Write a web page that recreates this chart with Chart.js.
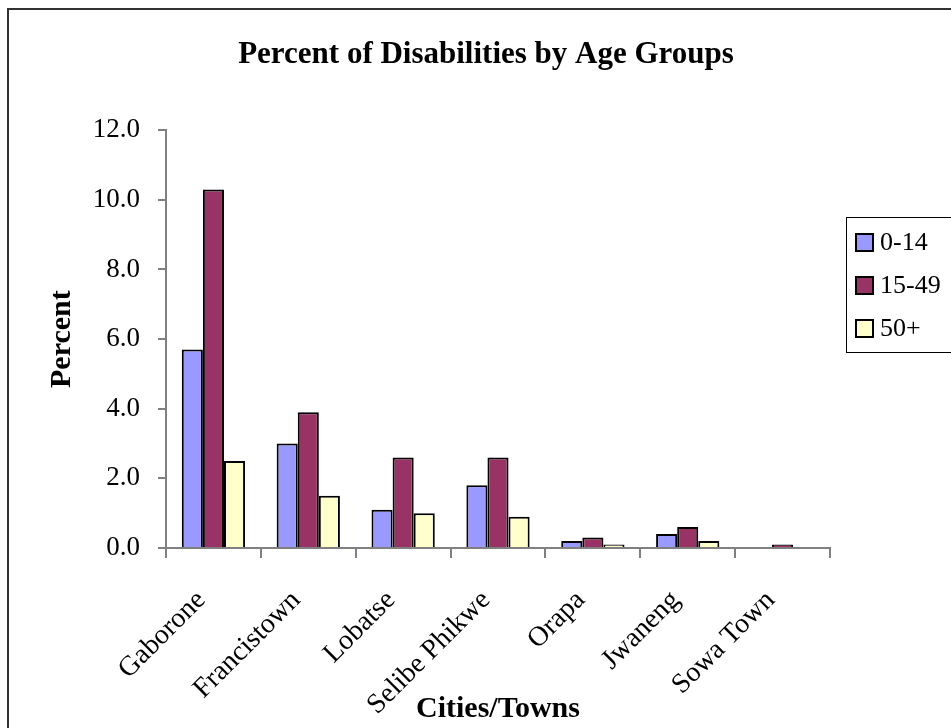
<!DOCTYPE html>
<html>
<head>
<meta charset="utf-8">
<title>Percent of Disabilities by Age Groups</title>
<script src="https://cdn.jsdelivr.net/npm/chart.js@4.4.0/dist/chart.umd.min.js"></script>
<style>
    html, body { margin: 0; padding: 0; background: #fff; }
</style>
</head>
<body>
<canvas id="disability-canvas" width="951" height="728"></canvas>
<script>
const cities = ["Gaborone", "Francistown", "Lobatse", "Selibe Phikwe", "Orapa", "Jwaneng", "Sowa Town"]
const ageGroups = ["0-14", "15-49", "50+"]
const age0to14 = [5.7, 3.0, 1.1, 1.8, 0.2, 0.4, 0.0]
const age15to49 = [10.3, 3.9, 2.6, 2.6, 0.3, 0.6, 0.1]
const age50plus = [2.5, 1.5, 1.0, 0.9, 0.1, 0.2, 0.0]
const yTicks = [0, 2, 4, 6, 8, 10, 12]
const barColors = ["#9999ff", "#993366", "#ffffcc"]

Chart.defaults.font.family = "'Liberation Serif', 'Times New Roman', serif"
Chart.defaults.color = "#000"

// outer frame of the picture
const framePlugin = {
    id: "frame",
    beforeDraw(chart) {
        const ctx = chart.ctx
        ctx.save()
        ctx.fillStyle = "#fff"
        ctx.fillRect(0, 0, chart.width, chart.height)
        ctx.strokeStyle = "#333"
        ctx.lineWidth = 2
        ctx.strokeRect(8, 9, chart.width + 20, chart.height + 20)
        ctx.restore()
    }
}

// boxed legend on the right; added as a layout box so it takes its own room
const boxLegendPlugin = {
    id: "boxLegend",
    beforeInit(chart) {
        const box = {
            position: "right",
            weight: 1000,
            fullSize: false,
            options: {},
            isHorizontal: () => false,
            update(maxWidth, maxHeight) {
                this.width = 121
                this.height = maxHeight
            },
            draw() {
                const ctx = chart.ctx
                const left = this.left + 16
                const top = 217
                const step = 43
                ctx.save()
                ctx.strokeStyle = "#000"
                ctx.lineWidth = 1
                ctx.strokeRect(left + 0.5, top + 0.5, 130, 135)
                ctx.font = "26px 'Liberation Serif', serif"
                ctx.textBaseline = "middle"
                chart.data.datasets.forEach((ds, i) => {
                    const y = top + 25 + i * step
                    ctx.fillStyle = ds.backgroundColor
                    ctx.fillRect(left + 10, y - 8, 17, 17)
                    ctx.lineWidth = 2
                    ctx.strokeRect(left + 10, y - 8, 17, 17)
                    ctx.fillStyle = "#000"
                    ctx.fillText(ds.label, left + 34, y + 1)
                })
                ctx.restore()
            }
        }
        Chart.layouts.addBox(chart, box)
    }
}

const canvas = document.querySelector("#disability-canvas")

const disabilityChart = new Chart(canvas, {
    type: "bar",
    data: {
        labels: cities,
        datasets: [age0to14, age15to49, age50plus].map((values, i) => ({
            label: ageGroups[i],
            data: values,
            backgroundColor: barColors[i],
            borderColor: "#000",
            borderWidth: 2,
            categoryPercentage: 0.667,
            barPercentage: 1.0
        }))
    },
    options: {
        responsive: false,
        animation: false,
        devicePixelRatio: 1,
        layout: {
            padding: { left: 21, right: 0, top: 0, bottom: 0 }
        },
        plugins: {
            legend: { display: false },
            tooltip: { enabled: false },
            title: {
                display: true,
                text: "Percent of Disabilities by Age Groups",
                font: { size: 31, weight: "bold" },
                padding: { top: 36, bottom: 57 }
            }
        },
        scales: {
            x: {
                grid: { drawOnChartArea: false, color: "#808080", lineWidth: 2, tickLength: 10, offset: true },
                border: { color: "#808080", width: 2 },
                ticks: { autoSkip: false, minRotation: 45, maxRotation: 45, padding: 26, labelOffset: -12, font: { size: 28 } },
                title: {
                    display: true,
                    text: "Cities/Towns",
                    font: { size: 30, weight: "bold" },
                    padding: { top: 0, bottom: 1 }
                },
                afterFit: scale => { scale.height = 180 }
            },
            y: {
                min: 0,
                max: 12,
                afterBuildTicks: scale => { scale.ticks = yTicks.map(v => ({ value: v })) },
                ticks: { padding: 18, font: { size: 27 }, callback: v => v.toFixed(1) },
                grid: { drawOnChartArea: false, color: "#808080", lineWidth: 2, tickLength: 8 },
                border: { color: "#808080", width: 2 },
                title: {
                    display: true,
                    text: "Percent",
                    font: { size: 30, weight: "bold" },
                    padding: { top: 23, bottom: 0 }
                },
                afterFit: scale => { scale.width = 145 }
            }
        }
    },
    plugins: [framePlugin, boxLegendPlugin]
})
</script>
</body>
</html>
